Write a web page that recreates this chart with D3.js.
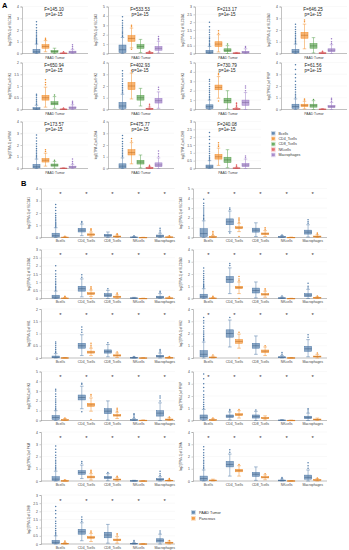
<!DOCTYPE html>
<html>
<head>
<meta charset="utf-8">
<script src="https://cdn.jsdelivr.net/npm/d3@7"></script>
<style>
  body { margin: 0; background: #fff; }
  text { font-family: "Liberation Sans", Arial, sans-serif; }
</style>
</head>
<body>
<svg width="349" height="550"></svg>
<script>
// Data
var cells = ["Bcells", "CD4_Tcells", "CD8_Tcells", "NKcells", "Macrophages"];
var genes = ["SLC2A1", "SLC2A3", "SLC16A1", "SLC16A3", "HK1", "HK2",
             "HK3", "PFKP", "PKM", "LDHA", "LDHB"];
var fValues = ["145.10", "533.53", "213.17", "646.25", "650.94", "402.93",
               "730.79", "61.56", "173.57", "475.77", "240.08"];
var pValue = "p=1e-15";
var yMax  = [4, 5, 3, 4, 2, 4, 5, 4, 4, 4, 3];
var yStep = [1, 1, 0.5, 1, 0.5, 1, 1, 1, 1, 1, 0.5];
var groups = ["PAAD Tumor", "Pancreas"];

// box stats per cell: [q1, median, q3, lower whisker, upper whisker]
var tumorStats = [
  [[0.05,0.15,0.35,0,0.8], [0.45,0.6,0.75,0.15,1.1], [0.1,0.17,0.25,0,0.45], [0,0.02,0.04,0,0.08], [0.05,0.12,0.2,0,0.35]],
  [[0.1,0.4,0.9,0,1.7], [1.3,1.6,1.9,0.6,2.7], [0.55,0.75,0.95,0.1,1.5], [0.02,0.06,0.1,0,0.2], [0.35,0.55,0.75,0.05,1.3]],
  [[0.02,0.08,0.2,0,0.45], [0.45,0.6,0.75,0.1,1.2], [0.12,0.2,0.3,0,0.5], [0,0.02,0.04,0,0.07], [0.03,0.08,0.14,0,0.3]],
  [[0.05,0.15,0.35,0,0.8], [1.3,1.55,1.8,0.4,2.5], [0.45,0.65,0.85,0.05,1.35], [0,0.03,0.06,0,0.12], [0.15,0.28,0.4,0,0.75]],
  [[0.01,0.03,0.08,0,0.18], [0.4,0.5,0.6,0.1,0.95], [0.2,0.26,0.33,0.05,0.55], [0,0.01,0.02,0,0.04], [0.04,0.07,0.11,0,0.2]],
  [[0.1,0.3,0.6,0,1.3], [1.7,2.0,2.3,0.9,3.1], [0.8,1.0,1.2,0.3,1.8], [0.02,0.06,0.1,0,0.2], [0.55,0.75,0.95,0.1,1.5]],
  [[0.1,0.3,0.5,0,1.0], [2.1,2.35,2.6,1.2,3.5], [0.7,0.95,1.2,0.05,2.0], [0.02,0.05,0.1,0,0.2], [0.45,0.75,1.0,0,1.8]],
  [[0.1,0.25,0.45,0,0.9], [0.25,0.35,0.45,0.05,0.7], [0.2,0.32,0.45,0,0.75], [0,0.02,0.04,0,0.08], [0.15,0.25,0.35,0,0.6]],
  [[0.05,0.15,0.35,0,0.8], [0.55,0.7,0.85,0.2,1.3], [0.2,0.28,0.38,0.02,0.6], [0,0.02,0.03,0,0.06], [0.07,0.12,0.2,0,0.35]],
  [[0.05,0.2,0.4,0,0.9], [1.15,1.35,1.6,0.4,2.2], [0.38,0.55,0.7,0.05,1.15], [0.01,0.04,0.08,0,0.15], [0.15,0.3,0.48,0,0.9]],
  [[0.03,0.1,0.22,0,0.5], [0.6,0.75,0.9,0.2,1.3], [0.38,0.55,0.72,0.05,1.2], [0,0.02,0.04,0,0.08], [0.12,0.22,0.32,0,0.6]]
];
var tumorOut = [
  [[0.85,0.93,1.02,1.1,1.18,1.27,1.4,1.52,1.66,1.8,1.95,2.2,2.45,2.7], [1.2,1.3], [], [0.15], [0.45,0.6,0.75]],
  [[1.8,1.95,2.1,2.25,2.4,2.6,2.8,3.0,3.25,3.5,3.9], [2.85,3.0,0.45], [], [0.25], [1.45,1.6,1.8]],
  [[0.5,0.58,0.66,0.75,0.85,0.95,1.05,1.2,1.35,1.5,1.7,2.0], [1.3,1.45], [0.6], [], [0.38,0.45]],
  [[0.88,0.97,1.05,1.15,1.27,1.4,1.55,1.7,1.85,2.05,2.25,2.5], [2.7,2.85], [], [0.2], [0.85,1.0,1.25]],
  [[0.22,0.28,0.35,0.42,0.5,0.58,0.65], [1.05,1.15,1.27], [0.62], [0.06], [0.25,0.3,0.35]],
  [[1.4,1.5,1.62,1.75,1.9,2.05,2.2,2.4,2.6,2.85,3.05,3.3], [3.3], [], [0.3,0.45], [1.7,1.9]],
  [[1.1,1.25,1.4,1.6,1.8,2.0,2.2,2.45,2.7,3.0,3.2], [0.9,3.7,3.8], [], [0.3,0.45,0.6,0.7], [2.0,2.3,2.5]],
  [[1.0,1.15,1.3,1.5,1.7,1.9,2.1,2.4,2.7,3.0,3.4,3.8], [0.8,0.9], [0.85], [], [0.7,0.85,0.95]],
  [[0.9,1.0,1.12,1.25,1.4,1.55,1.7,1.9,2.1,2.35,2.6,2.85], [1.45,1.6], [0.7], [], [0.45,0.6,0.8]],
  [[1.0,1.12,1.25,1.4,1.55,1.7,1.9,2.1,2.3,2.55,2.8], [2.35,2.55], [], [0.2,0.28], [1.05,1.25,1.5]],
  [[0.55,0.63,0.72,0.82,0.95,1.1,1.25,1.4,1.6,1.85,2.05,2.3], [1.4,1.5,1.65], [], [0.14,0.22], [0.68,0.8]]
];
var normalStats = [
  [[0,0.01,0.03,0,0.06], [0.18,0.24,0.3,0.05,0.45], [0.05,0.08,0.12,0,0.2], [0,0,0.01,0,0.02], [0.01,0.03,0.05,0,0.1]],
  [[0.02,0.06,0.1,0,0.2], [0.9,1.0,1.1,0.6,1.45], [0.3,0.38,0.46,0.1,0.7], [0,0,0.02,0,0.04], [0.05,0.1,0.15,0,0.28]],
  [[0,0.01,0.03,0,0.06], [0.25,0.3,0.36,0.12,0.52], [0.07,0.1,0.14,0,0.22], [0,0,0.01,0,0.02], [0.01,0.02,0.04,0,0.08]],
  [[0,0.02,0.04,0,0.08], [0.8,0.9,1.0,0.4,1.35], [0.28,0.34,0.4,0.1,0.6], [0,0,0.01,0,0.02], [0.03,0.06,0.09,0,0.15]],
  [[0,0.005,0.01,0,0.02], [0.2,0.24,0.28,0.1,0.4], [0.08,0.1,0.13,0.02,0.2], [0,0,0.005,0,0.01], [0,0.01,0.02,0,0.04]],
  [[0.02,0.05,0.08,0,0.15], [1.2,1.35,1.5,0.8,1.95], [0.45,0.55,0.65,0.2,0.9], [0,0.01,0.02,0,0.04], [0.08,0.12,0.16,0,0.3]],
  [[0.02,0.05,0.1,0,0.2], [1.45,1.6,1.75,0.95,2.3], [0.45,0.53,0.6,0.2,0.85], [0,0.01,0.03,0,0.06], [0.05,0.1,0.15,0,0.28]],
  [[0.02,0.05,0.08,0,0.15], [0.4,0.48,0.56,0.2,0.8], [0.15,0.2,0.25,0.05,0.38], [0,0.01,0.02,0,0.03], [0.05,0.08,0.12,0,0.2]],
  [[0,0.01,0.03,0,0.06], [0.25,0.32,0.4,0.08,0.6], [0.08,0.12,0.16,0,0.26], [0,0,0.01,0,0.02], [0.02,0.04,0.06,0,0.1]],
  [[0.02,0.05,0.08,0,0.15], [0.75,0.85,0.95,0.4,1.25], [0.25,0.3,0.36,0.1,0.5], [0,0.01,0.02,0,0.03], [0.05,0.08,0.12,0,0.2]],
  [[0,0.02,0.04,0,0.08], [0.35,0.4,0.46,0.15,0.65], [0.2,0.25,0.3,0.05,0.45], [0,0,0.01,0,0.02], [0.05,0.08,0.11,0,0.18]]
];
var normalOut = [
  [[0.1], [0.55,0.65,0.72], [0.25,0.3], [], [0.15]],
  [[0.3,0.45,0.6], [0.1,1.55,1.7,1.85,2.0], [0.85,1.0], [], [0.35,0.45]],
  [[0.1,0.14], [0,0.58,0.65,0.72], [0.28,0.34], [], [0.12]],
  [[0.12,0.18], [0,1.45,1.6,1.8], [0.7,0.8], [], [0.2]],
  [[], [0.45,0.52,0.6], [0.25], [], [0.06]],
  [[0.25], [0,2.1], [1.0], [], [0.4]],
  [[0.25], [0.1,2.5,2.65], [0.95,1.1,1.25], [], [0.35]],
  [[0.2], [0.9], [], [], []],
  [[0.1], [0.7,0.8,0.88], [0.32,0.38], [], [0.15,0.2]],
  [[], [1.35], [0.6], [], [0.25]],
  [[0.12,0.18], [0.72,0.8], [0.55,0.62], [], [0.22]]
];

// Styles
var cellColor = ["#4e79a7", "#f28e2b", "#59a14f", "#e15759", "#9d7dc6"];
var groupColor = ["#4e79a7", "#f28e2b"];
var axisColor = "#9a9a9a";
var fmt = d3.format("~g");

var svg = d3.select("svg");

function drawBox(g, cx, w, st, outs, y, color) {
  var b = g.append("g");
  b.append("line").attr("x1", cx).attr("x2", cx)
    .attr("y1", y(st[3])).attr("y2", y(st[4]))
    .attr("stroke", color).attr("stroke-width", 0.5);
  [st[3], st[4]].forEach(function(v) {
    b.append("line").attr("x1", cx - w * 0.25).attr("x2", cx + w * 0.25)
      .attr("y1", y(v)).attr("y2", y(v))
      .attr("stroke", color).attr("stroke-width", 0.5);
  });
  b.append("rect").attr("x", cx - w / 2).attr("width", w)
    .attr("y", y(st[2])).attr("height", Math.max(0.6, y(st[0]) - y(st[2])))
    .attr("fill", color).attr("fill-opacity", 0.65)
    .attr("stroke", color).attr("stroke-width", 0.5);
  b.append("line").attr("x1", cx - w / 2).attr("x2", cx + w / 2)
    .attr("y1", y(st[1])).attr("y2", y(st[1]))
    .attr("stroke", d3.color(color).darker(0.8)).attr("stroke-width", 0.5);
  b.selectAll("circle").data(outs).enter().append("circle")
    .attr("cx", cx).attr("cy", d => y(d)).attr("r", 0.75)
    .attr("fill", color);
}

function drawYAxis(g, x0, y, gi, labelX) {
  var ticks = d3.range(0, yMax[gi] + yStep[gi] / 2, yStep[gi]);
  var ax = g.append("g").attr("transform", "translate(" + x0 + ",0)")
    .call(d3.axisLeft(y).tickValues(ticks).tickSize(1.5).tickPadding(1.5).tickFormat(fmt));
  ax.select(".domain").attr("stroke", axisColor).attr("stroke-width", 0.6);
  ax.selectAll(".tick line").attr("stroke", axisColor).attr("stroke-width", 0.5);
  ax.selectAll(".tick text").attr("font-size", "3.4px").attr("fill", "#444")
    .attr("font-family", "Liberation Sans, Arial, sans-serif");
  var yc = (y.range()[0] + y.range()[1]) / 2;
  g.append("text").attr("transform", "translate(" + labelX + "," + yc + ") rotate(-90)")
    .attr("text-anchor", "middle").attr("font-size", "2.9px").attr("fill", "#444")
    .text("log2(TPM+1) of " + genes[gi]);
  return ticks;
}

// Panel A
var colXA = [22, 108, 195, 281];
var rowBottomA = [53.5, 109.5, 168.5];
var hA = 47, wA = 66;

svg.append("text").attr("x", 2).attr("y", 8).attr("font-size", "7.5px")
  .attr("font-weight", "bold").text("A");

genes.forEach(function(gname, gi) {
  var x0 = colXA[gi % 4], bottom = rowBottomA[Math.floor(gi / 4)];
  var g = svg.append("g");
  var y = d3.scaleLinear().domain([0, yMax[gi]]).range([bottom, bottom - hA]);
  var x = d3.scaleBand().domain(cells).range([x0 + 9, x0 + 56]).padding(0.22);
  var ticks = d3.range(0, yMax[gi] + yStep[gi] / 2, yStep[gi]);
  g.selectAll(".grid").data(ticks).enter().append("line")
    .attr("x1", x0).attr("x2", x0 + wA)
    .attr("y1", d => y(d)).attr("y2", d => y(d))
    .attr("stroke", "#efefef").attr("stroke-width", 0.4);
  drawYAxis(g, x0, y, gi, x0 - 11);
  g.append("line").attr("x1", x0).attr("x2", x0 + wA)
    .attr("y1", bottom).attr("y2", bottom)
    .attr("stroke", axisColor).attr("stroke-width", 0.6);
  g.append("text").attr("x", x0 + wA / 2).attr("y", bottom + 5)
    .attr("text-anchor", "middle").attr("font-size", "3.4px").attr("fill", "#444")
    .text(groups[0]);
  cells.forEach(function(c, ci) {
    drawBox(g, x(c) + x.bandwidth() / 2, x.bandwidth(), tumorStats[gi][ci],
            tumorOut[gi][ci], y, cellColor[ci]);
  });
  g.append("text").attr("x", x0 + 32).attr("y", bottom - hA + 4)
    .attr("text-anchor", "middle").attr("font-size", "4.6px").attr("fill", "#222")
    .text("F=" + fValues[gi]);
  g.append("text").attr("x", x0 + 32).attr("y", bottom - hA + 9.5)
    .attr("text-anchor", "middle").attr("font-size", "4.6px").attr("fill", "#222")
    .text(pValue);
});

// Legend A
var legA = svg.append("g").attr("transform", "translate(271,131)");
cells.forEach(function(c, ci) {
  var row = legA.append("g").attr("transform", "translate(0," + ci * 5.4 + ")");
  row.append("rect").attr("width", 4.6).attr("height", 4.6)
    .attr("fill", cellColor[ci]).attr("fill-opacity", 0.3);
  row.append("rect").attr("x", 1).attr("y", 1.2).attr("width", 2.6).attr("height", 2.2)
    .attr("fill", cellColor[ci]).attr("fill-opacity", 0.8)
    .attr("stroke", cellColor[ci]).attr("stroke-width", 0.3);
  row.append("text").attr("x", 7.5).attr("y", 3.6)
    .attr("font-size", "3.6px").attr("fill", "#333").text(c);
});

// Panel B
var colXB = [41, 193];
var bandStartB = [44, 192];
var rowBottomB = [237.5, 298.5, 358, 420.5, 481, 544];
var hB = 49, wB = 134;

svg.append("text").attr("x", 21).attr("y", 186).attr("font-size", "7.5px")
  .attr("font-weight", "bold").text("B");

genes.forEach(function(gname, gi) {
  var col = gi % 2, x0 = colXB[col], bottom = rowBottomB[Math.floor(gi / 2)];
  var g = svg.append("g");
  var y = d3.scaleLinear().domain([0, yMax[gi]]).range([bottom, bottom - hB]);
  var x = d3.scaleBand().domain(cells).range([bandStartB[col], bandStartB[col] + 137]).padding(0.25);
  var xs = d3.scaleBand().domain(groups).range([0, x.bandwidth()]).padding(0.12);
  var ticks = d3.range(0, yMax[gi] + yStep[gi] / 2, yStep[gi]);
  g.selectAll(".grid").data(ticks).enter().append("line")
    .attr("x1", x0).attr("x2", x0 + wB)
    .attr("y1", d => y(d)).attr("y2", d => y(d))
    .attr("stroke", "#efefef").attr("stroke-width", 0.4);
  drawYAxis(g, x0, y, gi, x0 - 11);
  g.append("line").attr("x1", x0).attr("x2", x0 + wB)
    .attr("y1", bottom).attr("y2", bottom)
    .attr("stroke", axisColor).attr("stroke-width", 0.6);
  cells.forEach(function(c, ci) {
    var cx = x(c) + x.bandwidth() / 2;
    g.append("text").attr("x", cx).attr("y", bottom + 4.6)
      .attr("text-anchor", "middle").attr("font-size", "3.4px").attr("fill", "#444")
      .text(c);
    g.append("text").attr("x", cx).attr("y", bottom - hB + 7.5)
      .attr("text-anchor", "middle").attr("font-size", "6px").attr("fill", "#333")
      .text("*");
    var w = xs.bandwidth() * 0.9;
    drawBox(g, x(c) + xs(groups[0]) + xs.bandwidth() / 2, w,
            tumorStats[gi][ci], tumorOut[gi][ci], y, groupColor[0]);
    drawBox(g, x(c) + xs(groups[1]) + xs.bandwidth() / 2, w,
            normalStats[gi][ci], normalOut[gi][ci], y, groupColor[1]);
  });
});

// Legend B
var legB = svg.append("g").attr("transform", "translate(191,510)");
groups.forEach(function(s, si) {
  var row = legB.append("g").attr("transform", "translate(0," + si * 6 + ")");
  row.append("rect").attr("width", 4.8).attr("height", 4.8)
    .attr("fill", groupColor[si]).attr("fill-opacity", 0.3);
  row.append("rect").attr("x", 1).attr("y", 1.2).attr("width", 2.8).attr("height", 2.4)
    .attr("fill", groupColor[si]).attr("fill-opacity", 0.8)
    .attr("stroke", groupColor[si]).attr("stroke-width", 0.3);
  row.append("text").attr("x", 8).attr("y", 3.8)
    .attr("font-size", "3.8px").attr("fill", "#333").text(s);
});
</script>
</body>
</html>
